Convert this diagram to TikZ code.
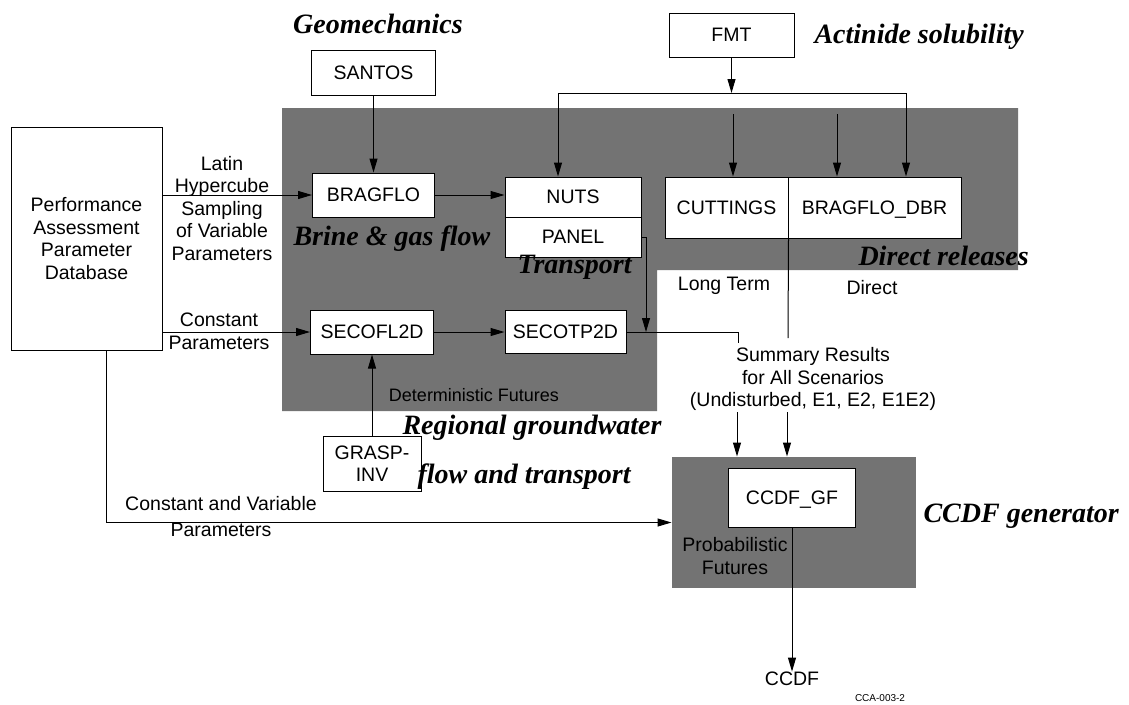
\documentclass[tikz,border=0pt]{standalone}
\usepackage{fontspec}
\setmainfont{Liberation Serif}
\setsansfont{Liberation Sans}
\usetikzlibrary{arrows.meta}

\tikzset{
  prog/.style={draw, fill=white, inner sep=0pt, align=center, font=\sffamily\fontsize{19.5}{22.5}\selectfont},
  lbl/.style={inner sep=0pt, align=center, font=\sffamily\fontsize{19.5}{22.5}\selectfont},
  area/.style={fill=black!55},
  topic/.style={inner sep=0pt, font=\fontsize{28}{30}\selectfont\bfseries\itshape},
}

\begin{document}
\begin{tikzpicture}[x=1pt, y=-1pt, line width=1pt, >={Triangle[length=14pt,width=8pt]}]
        \useasboundingbox (0,0) rectangle (1129,704);

        % Shaded zones
        \fill[area] (282,108) -- (1018,108) -- (1018,270) -- (657,270) -- (657,411) -- (282,411) -- cycle;
        \node[area, minimum width=244pt, minimum height=131pt, inner sep=0pt] (ccdfzone) at (794,522.5) {};

        % Programs
        \node[prog, minimum width=151pt, minimum height=223pt] (padb) at (86.5,238.5) {Performance\\Assessment\\Parameter\\Database};
        \node[prog, minimum width=124pt, minimum height=45pt] (santos) at (373.5,72.5) {SANTOS};
        \node[prog, minimum width=125pt, minimum height=44pt] (fmt) at (731.5,35) {FMT};
        \node[prog, minimum width=122pt, minimum height=44pt] (bragflo) at (373.5,195) {BRAGFLO};
        \node[prog, minimum width=136pt, minimum height=40pt] (nuts) at (573,197) {NUTS};
        \node[prog, minimum width=136pt, minimum height=40pt] (panel) at (573,237) {PANEL};
        \node[prog, minimum width=123pt, minimum height=61pt] (cuttings) at (726.5,207.5) {CUTTINGS};
        \node[prog, minimum width=173pt, minimum height=61pt, text depth=0pt] (dbr) at (874.5,207.5) {BRAGFLO\_DBR};
        \node[prog, minimum width=123pt, minimum height=44pt] (secofl) at (372,332) {SECOFL2D};
        \node[prog, minimum width=121pt, minimum height=43pt] (secotp) at (565.5,332) {SECOTP2D};
        \node[prog, minimum width=98pt, minimum height=55pt] (grasp) at (372,463.5) {GRASP-\\INV};
        \node[prog, minimum width=127pt, minimum height=59pt, text depth=0pt] (ccdfgf) at (792,497.5) {CCDF\_GF};

        % Labels
        \node[lbl] (lhs) at (222,208.5) {Latin\\Hypercube\\Sampling\\of Variable\\Parameters};
        \node[lbl] (constp) at (219,331.5) {Constant\\Parameters};
        \node[lbl] (cvp) at (221,517) {Constant and Variable\\[3.5pt]Parameters};
        \node[lbl] (longterm) at (724,286) {Long Term};
        \node[lbl] (direct) at (872,288) {Direct};
        \node[lbl] (summary) at (813,379) {Summary Results\\for All Scenarios\\(Undisturbed, E1, E2, E1E2)};
        \node[lbl, font=\sffamily\fontsize{18}{20}\selectfont] (detfut) at (474,395) {Deterministic Futures};
        \node[lbl] (probfut) at (735,556) {Probabilistic\\Futures};
        \node[lbl] (ccdf) at (792,679) {CCDF};
        \node[lbl, font=\sffamily\fontsize{10}{10}\selectfont] (figid) at (880,698) {CCA-003-2};

        % Topics
        \node[topic, anchor=base] (geo) at (378,33) {Geomechanics};
        \node[topic, anchor=base west] (actin) at (814,43) {Actinide solubility};
        \node[topic, anchor=base west] (brine) at (293,245) {Brine \& gas flow};
        \node[topic, anchor=base west] (transp) at (517,273) {Transport};
        \node[topic, anchor=base west] (dirrel) at (858,265) {Direct releases};
        \node[topic, anchor=base west] (regional) at (402,434) {Regional groundwater};
        \node[topic, anchor=base west] (flowtr) at (417,483) {flow and transport};
        \node[topic, anchor=base west] (ccdfgen) at (923,522) {CCDF generator};

        % Connectors
        \coordinate (bus1) at (558,93);
        \coordinate (bus2) at (906,93);
        \coordinate (hid1) at (733,114);
        \coordinate (hid2) at (837,114);
        \coordinate (join) at (646,332);
        \coordinate (lt1) at (738,343);
        \coordinate (dt1) at (788,338);
        \coordinate (lt2) at (737,412);
        \coordinate (dt2) at (787,412);
        \coordinate (pdrop) at (106,350);

        \draw[->] (santos) -- (bragflo);
        \draw[->] (fmt) -- (fmt.south |- bus1);
        \draw (bus1) -- (bus2);
        \draw[->] (bus1) -- (bus1 |- nuts.north);
        \draw[->] (bus2) -- (bus2 |- dbr.north);
        \draw[->] (hid1) -- (hid1 |- cuttings.north);
        \draw[->] (hid2) -- (hid2 |- dbr.north);
        \draw[->] (bragflo.west -| padb.east) -- (bragflo.west);
        \draw[->] (secofl.west -| padb.east) -- (secofl.west);
        \draw[->] (bragflo) -- (bragflo.east -| nuts.west);
        \draw[->] (secofl) -- (secotp);
        \draw[->] (grasp) -- (secofl);
        \draw[->] (panel.east) -| (join);
        \draw (secotp.east) -| (lt1);
        \draw (cuttings.south east) -- (dt1);
        \draw[->] (lt2) -- (lt2 |- ccdfzone.north);
        \draw[->] (dt2) -- (dt2 |- ccdfzone.north);
        \draw[->] (pdrop) |- (ccdfzone.west);
        \draw[->] (ccdfgf) -- (ccdf);
\end{tikzpicture}
\end{document}
